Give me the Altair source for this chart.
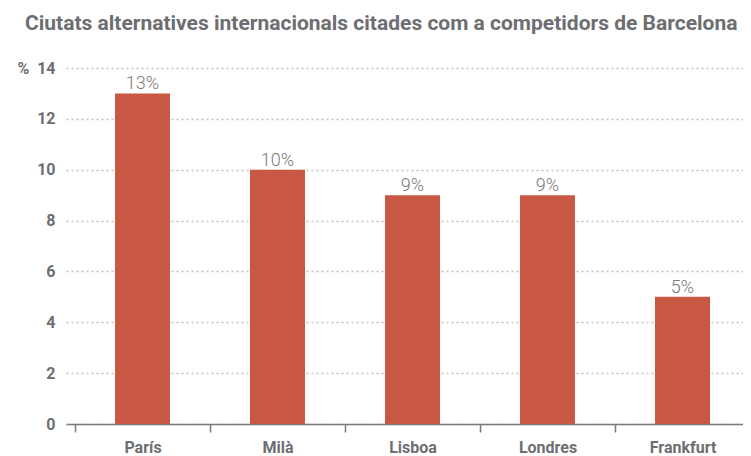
import altair as alt
import pandas as pd

cities = ["París", "Milà", "Lisboa", "Londres", "Frankfurt"]
values = [13, 10, 9, 9, 5]
labels = ["13%", "10%", "9%", "9%", "5%"]

df = pd.DataFrame({"city": cities, "value": values, "label": labels})

GRAY = "#6d6e71"

x = alt.X("city:N", sort=cities, title=None,
          scale=alt.Scale(paddingInner=0, paddingOuter=0.0333, align=1),
          axis=alt.Axis(tickBand="extent", labelFont="Roboto", labelFontWeight="bold",
                        labelFontSize=16, labelColor=GRAY, labelAngle=0, labelPadding=7,
                        domainColor="#7a7a7a", domainWidth=1.5, tickColor="#7a7a7a",
                        tickWidth=1.5, tickSize=8, grid=False))

y = alt.Y("value:Q",
          scale=alt.Scale(domain=[0, 14], nice=False),
          axis=alt.Axis(values=[0, 2, 4, 6, 8, 10, 12, 14], title="%", titleAngle=0,
                        titleX=-43, titleY=0, titleBaseline="middle", titleAlign="center",
                        titleFont="Roboto", titleFontWeight="bold", titleFontSize=16,
                        titleColor=GRAY, labelFont="Roboto", labelFontWeight="bold",
                        labelFontSize=16, labelColor=GRAY, labelPadding=11, ticks=False,
                        domain=False, grid=True, gridColor="#c9bcb8", gridDash=[2, 3],
                        gridWidth=1.5))

bars = alt.Chart(df).mark_bar(color="#c85743", size=55).encode(x=x, y=y)
text = alt.Chart(df).mark_text(baseline="alphabetic", dy=-4, font="Roboto", fontSize=18,
                               fontWeight=300, color="#7a7a7a").encode(
    x=alt.X("city:N", sort=cities), y="value:Q", text="label:N")

chart = (bars + text).properties(
    width=684, height=356,
    autosize="none",
    padding={"left": 58, "top": 60, "right": -7, "bottom": 36},
    title=alt.TitleParams("Ciutats alternatives internacionals citades com a competidors de Barcelona",
                          anchor="start", frame="group", dx=-41, font="Roboto", fontSize=21,
                          fontWeight="bold", color=GRAY, offset=9, baseline="alphabetic"),
).configure_view(stroke=None)

chart.save("out.html", embed_options={"renderer": "svg", "actions": False})
